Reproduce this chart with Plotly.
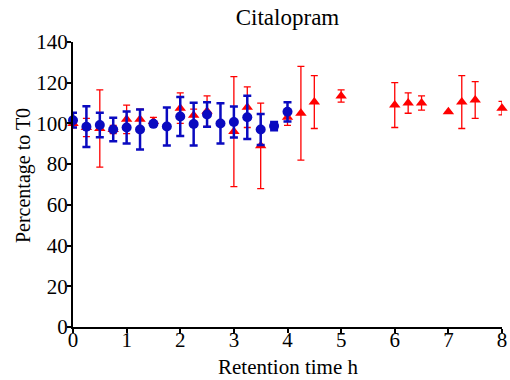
import plotly.graph_objects as go

# Blue series (circles)
blue_t = [0, 0.25, 0.5, 0.75, 1, 1.25, 1.5, 1.75, 2, 2.25, 2.5, 2.75, 3, 3.25, 3.5, 3.75, 4]
blue_v = [101.6, 98.4, 99.2, 97.0, 98.0, 97.0, 99.8, 98.5, 103.4, 99.7, 104.4, 100.0, 100.7, 103.0, 97.0, 98.7, 105.7]
blue_e = [3.6, 10.0, 6.0, 5.8, 7.9, 9.8, 0.0, 9.3, 9.6, 10.5, 6.0, 9.9, 7.6, 10.6, 7.6, 2.0, 4.7]

# Red series (triangles)
red_t = [0, 0.25, 0.5, 0.75, 1, 1.25, 1.5, 2, 2.25, 2.5, 3, 3.25, 3.5, 4, 4.25, 4.5, 5, 6, 6.25, 6.5, 7, 7.25, 7.5, 8]
red_v = [100.0, 98.0, 97.5, 97.0, 102.0, 102.0, 101.0, 107.5, 104.0, 106.0, 96.0, 108.0, 89.0, 103.0, 105.0, 110.5, 113.5, 109.0, 110.0, 110.0, 105.7, 110.5, 111.5, 107.5]
red_e = [2.0, 4.5, 19.0, 2.0, 7.0, 5.0, 2.0, 7.5, 3.0, 7.5, 27.0, 10.0, 21.0, 4.0, 23.0, 13.0, 3.0, 11.0, 5.0, 3.5, 0.0, 13.0, 9.0, 3.3]

x_ticks = [0, 1, 2, 3, 4, 5, 6, 7, 8]
y_ticks = [0, 20, 40, 60, 80, 100, 120, 140]

FONT = "'Liberation Serif', 'Times New Roman', Times, serif"

fig = go.Figure()
fig.add_trace(go.Scatter(
    x=red_t, y=red_v, mode="markers",
    marker=dict(symbol="triangle-up", size=10, color="#ff0000"),
    error_y=dict(type="data", array=red_e, visible=True, color="#ff0000", thickness=1.3, width=3.5),
    cliponaxis=False, showlegend=False))
fig.add_trace(go.Scatter(
    x=blue_t, y=blue_v, mode="markers",
    marker=dict(symbol="circle", size=10, color="#0a0ac0"),
    error_y=dict(type="data", array=blue_e, visible=True, color="#0a0ac0", thickness=2.5, width=4),
    cliponaxis=False, showlegend=False))

fig.update_layout(
    width=510, height=380,
    margin=dict(l=73, r=8, t=42, b=53),
    paper_bgcolor="white", plot_bgcolor="white",
    font=dict(family=FONT, size=21, color="black"),
    title=dict(text="Citalopram", x=0.5, xref="paper", xanchor="center", y=0.955, yanchor="middle",
               font=dict(family=FONT, size=23, color="black")),
    xaxis=dict(range=[0, 8], tickvals=x_ticks, showgrid=False, zeroline=False,
               showline=True, linecolor="black", linewidth=2, automargin=False,
               ticks="outside", ticklen=4, tickwidth=2, tickcolor="black",
               ticklabelstandoff=-11,
               tickfont=dict(family=FONT, size=21)),
    yaxis=dict(range=[0, 140], tickvals=y_ticks, showgrid=False, zeroline=False,
               showline=True, linecolor="black", linewidth=2, automargin=False,
               ticks="outside", ticklen=4, tickwidth=2, tickcolor="black",
               ticklabelstandoff=-5,
               tickfont=dict(family=FONT, size=21)),
    annotations=[
        dict(text="Retention time h", xref="paper", yref="paper", x=0.5, y=-0.139,
             xanchor="center", yanchor="middle", showarrow=False,
             font=dict(family=FONT, size=21, color="black")),
        dict(text="Percentage to T0", xref="paper", yref="paper", x=-0.114, y=0.53,
             xanchor="center", yanchor="middle", textangle=-90, showarrow=False,
             font=dict(family=FONT, size=20, color="black")),
    ],
)

fig.write_html("out.html")
